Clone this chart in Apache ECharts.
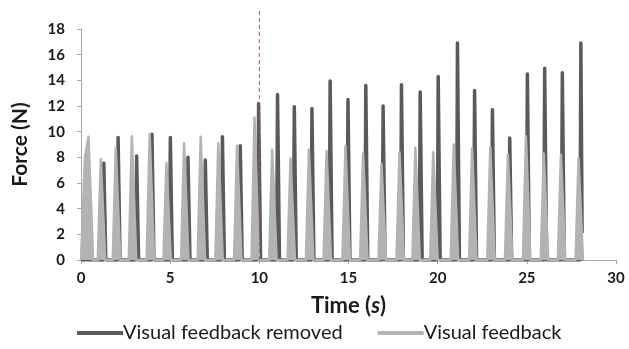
<!DOCTYPE html>
<html><head><meta charset="utf-8">
<script src="https://cdn.jsdelivr.net/npm/echarts@6/dist/echarts.min.js"></script>
<style>html,body{margin:0;padding:0;background:#fff}#c{width:629px;height:349px}</style>
</head><body><div id="c"></div>
<script>
// Series "Visual feedback removed" (dark): time (s) and force (N)
const darkT = [0,
0.22,0.27,0.33,0.38, 1.23,1.28,1.34,1.39, 2.03,2.08,2.14,2.19, 3.07,3.12,3.18,3.23,
3.93,3.98,4.04,4.09, 4.96,5.01,5.07,5.12, 5.95,6.0,6.06,6.11, 6.92,6.97,7.03,7.08,
7.88,7.93,7.99,8.04, 8.88,8.93,8.99,9.04, 9.91,9.96,10.02,10.07, 10.97,11.02,11.08,11.13,
11.91,11.96,12.02,12.07, 12.9,12.95,13.01,13.06, 13.92,13.97,14.03,14.08, 14.92,14.97,15.03,15.08,
15.92,15.97,16.03,16.08, 16.89,16.94,17.0,17.05, 17.92,17.97,18.03,18.08, 18.97,19.02,19.08,19.13,
19.98,20.03,20.09,20.14, 21.06,21.11,21.17,21.22, 22.02,22.07,22.13,22.18, 23.02,23.07,23.13,23.18,
23.99,24.04,24.1,24.15, 24.98,25.03,25.09,25.14, 25.95,26.0,26.06,26.11, 26.94,26.99,27.05,27.1,
27.98,28.03,28.09,28.1];
const darkF = [0,
0,7.9,7.9,0, 0,7.55,7.55,0, 0,9.55,9.55,0, 0,8.1,8.1,0,
0,9.8,9.8,0, 0,9.55,9.55,0, 0,8.0,8.0,0, 0,7.8,7.8,0,
0,9.6,9.6,0, 0,8.9,8.9,0, 0,12.2,12.2,0, 0,12.9,12.9,0,
0,11.95,11.95,0, 0,11.8,11.8,0, 0,13.95,13.95,0, 0,12.5,12.5,0,
0,13.6,13.6,0, 0,12.0,12.0,0, 0,13.65,13.65,0, 0,13.1,13.1,0,
0,14.3,14.3,0, 0,16.9,16.9,0, 0,13.2,13.2,0, 0,11.7,11.7,0,
0,9.5,9.5,0, 0,14.5,14.5,0, 0,14.95,14.95,0, 0,14.6,14.6,0,
0,16.9,16.9,2.1];

// Series "Visual feedback" (light): time (s) and force (N)
const lightT = [0,
0.08,0.22,0.32,0.42,0.52,0.68, 0.94,1.11,1.21,1.36, 1.78,1.95,2.05,2.2, 2.68,2.85,2.95,3.1,
3.68,3.85,3.95,4.1, 4.62,4.79,4.89,5.04, 5.61,5.78,5.88,6.03, 6.54,6.71,6.81,6.96,
7.53,7.7,7.8,7.95, 8.58,8.75,8.85,9.0, 9.56,9.73,9.83,9.98, 10.55,10.72,10.82,10.97,
11.58,11.75,11.85,12.0, 12.61,12.78,12.88,13.03, 13.6,13.77,13.87,14.02, 14.66,14.83,14.93,15.08,
15.65,15.82,15.92,16.07, 16.68,16.85,16.95,17.1, 17.69,17.86,17.96,18.11, 18.58,18.75,18.85,19.0,
19.58,19.75,19.85,20.0, 20.73,20.9,21.0,21.15, 21.76,21.93,22.03,22.18, 22.78,22.95,23.05,23.2,
23.77,23.94,24.04,24.19, 24.78,24.95,25.05,25.2, 25.78,25.95,26.05,26.2, 26.74,26.91,27.01,27.16,
27.73,27.9,28.0,28.15];
const lightF = [0,
0,8.0,8.0,9.6,9.6,0, 0,7.85,7.85,0, 0,8.7,8.7,0, 0,9.65,9.65,0,
0,9.8,9.8,0, 0,7.55,7.55,0, 0,9.1,9.1,0, 0,9.6,9.6,0,
0,9.1,9.1,0, 0,8.9,8.9,0, 0,11.1,11.1,0, 0,8.6,8.6,0,
0,7.9,7.9,0, 0,8.6,8.6,0, 0,8.5,8.5,0, 0,8.9,8.9,0,
0,8.3,8.3,0, 0,7.5,7.5,0, 0,8.4,8.4,0, 0,8.75,8.75,0,
0,8.4,8.4,0, 0,9.0,9.0,0, 0,8.7,8.7,0, 0,8.8,8.8,0,
0,8.2,8.2,0, 0,9.65,9.65,0, 0,8.3,8.3,0, 0,8.2,8.2,0,
0,7.9,7.9,0];

// Marker: visual feedback removed at t = 10 s
const markerT = [10, 10];
const markerF = [0, 19.5];

const seriesNames = ['Visual feedback removed', 'Visual feedback'];
const xTicks = [0, 5, 10, 15, 20, 25, 30];
const yTicks = [0, 2, 4, 6, 8, 10, 12, 14, 16, 18];

const zip = (a, b) => a.map((v, i) => [v, b[i]]);
const FONT = 'Lato';
const DARK = '#5a5a5a', LIGHT = '#b3b3b3';

const chart = echarts.init(document.getElementById('c'));
chart.setOption({
  animation: false,
  grid: { left: 81, right: 13, top: 29, bottom: 89 },
  legend: {
    data: seriesNames, top: 323, left: 77, icon: 'rect', itemWidth: 46, itemHeight: 4,
    itemGap: 35, padding: 0,
    textStyle: { fontFamily: FONT, fontSize: 20, color: '#1a1a1a', padding: [0, 0, 0, -5] }
  },
  xAxis: {
    type: 'value', min: xTicks[0], max: xTicks[xTicks.length - 1], interval: 5,
    name: 'Time ({i|s})', nameLocation: 'middle', nameGap: 35,
    nameTextStyle: { fontFamily: FONT, fontSize: 22, fontWeight: 'bold', color: '#1a1a1a',
      rich: { i: { fontFamily: FONT, fontSize: 22, fontWeight: 'bold', fontStyle: 'italic', color: '#1a1a1a' } } },
    axisLine: { lineStyle: { color: '#a8a8a8', width: 1 } },
    axisTick: { show: true, length: 4, lineStyle: { color: '#a8a8a8' } },
    axisLabel: { fontFamily: FONT, fontSize: 15, fontWeight: 'bold', color: '#1a1a1a', margin: 11 },
    splitLine: { show: false }
  },
  yAxis: {
    type: 'value', min: yTicks[0], max: yTicks[yTicks.length - 1], interval: 2,
    name: 'Force (N)', nameLocation: 'middle', nameGap: 50, nameRotate: 90,
    nameTextStyle: { fontFamily: FONT, fontSize: 21, fontWeight: 'bold', color: '#1a1a1a' },
    axisLine: { show: true, lineStyle: { color: '#a8a8a8', width: 1 } },
    axisTick: { show: true, length: 4, lineStyle: { color: '#a8a8a8' } },
    axisLabel: { fontFamily: FONT, fontSize: 15, fontWeight: 'bold', color: '#1a1a1a', margin: 16 },
    splitLine: { show: false }
  },
  series: [
    { name: seriesNames[0], type: 'line', data: zip(darkT, darkF), showSymbol: false, symbol: 'none',
      lineStyle: { color: DARK, width: 3.5, join: 'round' }, itemStyle: { color: DARK },
      areaStyle: { color: DARK, opacity: 1 }, z: 2 },
    { name: seriesNames[1], type: 'line', data: zip(lightT, lightF), showSymbol: false, symbol: 'none',
      lineStyle: { color: LIGHT, width: 2.5, join: 'round' }, itemStyle: { color: LIGHT },
      areaStyle: { color: LIGHT, opacity: 1 }, z: 3 },
    { name: 'marker', type: 'line', data: zip(markerT, markerF), showSymbol: false, symbol: 'none',
      clip: false, lineStyle: { color: '#ee3b3b', width: 1, type: [4, 3] }, z: 4, silent: true }
  ]
});
</script></body></html>
